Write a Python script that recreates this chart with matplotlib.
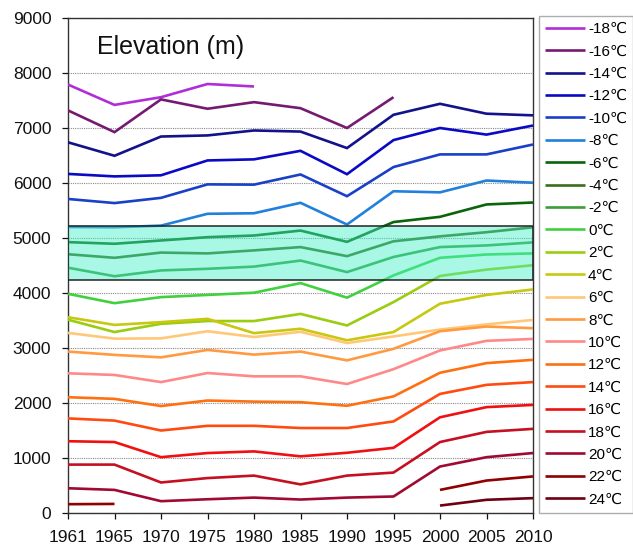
import numpy as np
import matplotlib
matplotlib.use("Agg")
import matplotlib.pyplot as plt

plt.rcParams['font.family'] = ['Liberation Sans', 'DejaVu Sans']

nan = np.nan
years = ['1961', '1965', '1970', '1975', '1980', '1985', '1990', '1995', '2000', '2005', '2010']

labels = ['-18\u2103', '-16\u2103', '-14\u2103', '-12\u2103', '-10\u2103', '-8\u2103', '-6\u2103',
          '-4\u2103', '-2\u2103', '0\u2103', '2\u2103', '4\u2103', '6\u2103', '8\u2103', '10\u2103',
          '12\u2103', '14\u2103', '16\u2103', '18\u2103', '20\u2103', '22\u2103', '24\u2103']

colors = ['#B02ED8', '#741A72', '#12128A', '#0A0AC4', '#1A40C8', '#2080DC', '#0A640A',
          '#3A6E1A', '#3A9E3A', '#40D040', '#9ACC10', '#C8C810', '#FFC878', '#FF9A40',
          '#FF8888', '#FF7010', '#FF4A10', '#F01010', '#C41020', '#A00A30', '#900000',
          '#6E0010']

# elevation (m) of each isotherm per year
t_m18 = [7790, 7420, 7560, 7800, 7755, nan, nan, nan, nan, nan, nan]
t_m16 = [7320, 6925, 7520, 7350, 7470, 7360, 7000, 7560, nan, nan, nan]
t_m14 = [6740, 6495, 6845, 6865, 6955, 6935, 6635, 7240, 7440, 7260, 7230]
t_m12 = [6165, 6120, 6140, 6410, 6430, 6585, 6160, 6780, 7000, 6880, 7045]
t_m10 = [5710, 5635, 5730, 5975, 5970, 6155, 5760, 6290, 6520, 6520, 6700]
t_m8 = [5200, 5195, 5225, 5440, 5450, 5640, 5245, 5850, 5830, 6045, 6005]
t_m6 = [4925, 4895, 4955, 5015, 5045, 5135, 4930, 5290, 5385, 5610, 5645]
t_m4 = [4705, 4640, 4735, 4720, 4775, 4835, 4670, 4940, 5030, 5105, 5195]
t_m2 = [4460, 4305, 4410, 4440, 4480, 4590, 4380, 4655, 4835, 4865, 4920]
t_0 = [3985, 3815, 3925, 3965, 4005, 4180, 3915, 4320, 4640, 4700, 4720]
t_2 = [3515, 3290, 3440, 3490, 3490, 3620, 3410, 3835, 4310, 4425, 4505]
t_4 = [3560, 3420, 3470, 3530, 3270, 3350, 3140, 3290, 3805, 3965, 4065]
t_6 = [3275, 3170, 3175, 3305, 3200, 3295, 3090, 3210, 3335, 3430, 3510]
t_8 = [2935, 2875, 2830, 2965, 2880, 2935, 2775, 2985, 3305, 3390, 3360]
t_10 = [2540, 2510, 2380, 2545, 2485, 2485, 2345, 2615, 2955, 3130, 3165]
t_12 = [2105, 2075, 1945, 2045, 2025, 2015, 1950, 2120, 2550, 2725, 2785]
t_14 = [1720, 1680, 1500, 1585, 1585, 1545, 1545, 1665, 2165, 2330, 2380]
t_16 = [1305, 1290, 1015, 1090, 1120, 1030, 1095, 1185, 1740, 1925, 1965]
t_18 = [880, 880, 555, 635, 680, 520, 680, 735, 1290, 1475, 1530]
t_20 = [450, 420, 215, 250, 280, 245, 280, 300, 845, 1015, 1090]
t_22 = [160, 165, nan, nan, nan, nan, nan, nan, 420, 590, 665]
t_24 = [nan, nan, nan, nan, nan, nan, nan, nan, 135, 240, 270]

series = [t_m18, t_m16, t_m14, t_m12, t_m10, t_m8, t_m6, t_m4, t_m2, t_0, t_2,
          t_4, t_6, t_8, t_10, t_12, t_14, t_16, t_18, t_20, t_22, t_24]

band_low, band_high = 4240, 5220

fig = plt.figure(figsize=(6.33, 5.45), dpi=100)
ax = fig.add_axes([68 / 633, 1 - 513 / 545, 465 / 633, 495 / 545])

x = np.arange(len(years))
handles = []
for vals, col, lab in zip(series, colors, labels):
    h, = ax.plot(x, vals, color=col, lw=1.9, label=lab, zorder=3,
                 solid_joinstyle='miter', solid_capstyle='butt')
    handles.append(h)

# highlighted elevation band
ax.axhspan(band_low, band_high, facecolor='#40F0C8', alpha=0.45, lw=0, zorder=4)
ax.axhspan(band_low, band_high, facecolor='none', edgecolor='#222222', lw=1.1, zorder=5)

ax.set_xlim(0, len(years) - 1)
ax.set_ylim(0, 9000)
ax.set_xticks(x)
ax.set_xticklabels(years)
ax.set_yticks(np.arange(0, 9001, 1000))
ax.yaxis.grid(True, linestyle=(0, (1, 1)), color='#8A8A8A', lw=0.8, zorder=1)
ax.set_axisbelow(True)
ax.tick_params(axis='both', labelsize=12.5, colors='#111111', width=0.9)
ax.tick_params(axis='y', length=4, pad=8)
ax.tick_params(axis='x', length=4, pad=8)
for sp in ax.spines.values():
    sp.set_color('#333333')
    sp.set_linewidth(1.0)

ax.text(0.062, 0.941, 'Elevation (m)', transform=ax.transAxes, fontsize=18,
        ha='left', va='center', color='#111111')

leg = fig.legend(handles=handles, loc='upper left', bbox_to_anchor=(539 / 633, 1 - 16 / 545),
                 fontsize=11, handlelength=2.6, handletextpad=0.2, labelspacing=0.55,
                 borderpad=0.4, borderaxespad=0, frameon=True, fancybox=False)
leg.get_frame().set_edgecolor('#999999')
leg.get_frame().set_linewidth(1.0)

fig.savefig('out.png', dpi=100)
